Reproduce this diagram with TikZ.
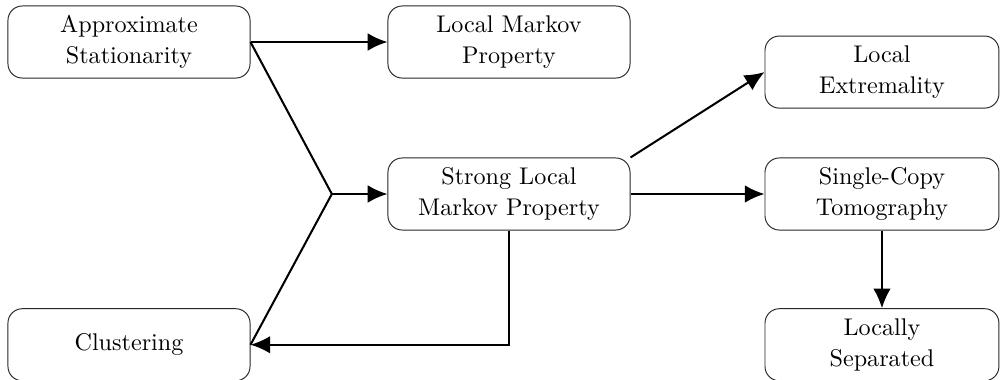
\documentclass[tikz,border=0pt]{standalone}
\usetikzlibrary{arrows.meta}

\begin{document}
\begin{tikzpicture}[
  box/.style={draw=black!85,rounded corners=6pt,align=center,minimum width=3.56cm,minimum height=1.06cm,inner sep=0pt,font=\fontsize{10.1pt}{13pt}\selectfont},
  rbox/.style={box,minimum width=3.44cm},
  arr/.style={-{Latex[length=2.9mm,width=2.6mm]},line width=0.85pt},
  ln/.style={line width=0.85pt}]
  \useasboundingbox (0,0) rectangle (14.706,-5.574);
  \node[box] (as) at (1.897,-0.618) {Approximate\\Stationarity};
  \node[box] (lmp) at (7.485,-0.618) {Local Markov\\Property};
  \node[rbox] (le) at (12.97,-1.06) {Local\\Extremality};
  \node[box] (slmp) at (7.485,-2.853) {Strong Local\\Markov Property};
  \node[rbox] (sct) at (12.97,-2.853) {Single-Copy\\Tomography};
  \node[rbox] (ls) at (12.97,-5.07) {Locally\\Separated};
  \node[box] (cl) at (1.897,-5.07) {Clustering};
  \coordinate (j) at (4.88,-2.853);
  \draw[arr] (as) -- (lmp);
  \draw[ln] (as.east) -- (j);
  \draw[ln] (cl.east) -- (j);
  \draw[arr] (j) -- (slmp);
  \draw[arr] (slmp.north east) -- (le.west);
  \draw[arr] (slmp) -- (sct);
  \draw[arr] (sct) -- (ls);
  \draw[arr] (slmp.south) |- (cl.east);
\end{tikzpicture}
\end{document}
